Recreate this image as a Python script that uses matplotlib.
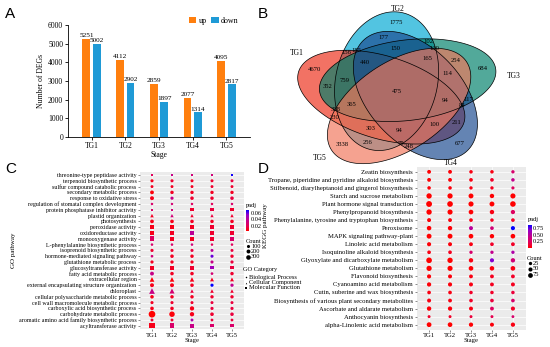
import numpy as np
import matplotlib.pyplot as plt
from matplotlib.patches import Polygon
from matplotlib.colors import LinearSegmentedColormap, Normalize
from matplotlib.cm import ScalarMappable

plt.rcParams['font.family'] = ['Liberation Serif', 'DejaVu Serif']

# ---------------- data ----------------
stages = ['TG1', 'TG2', 'TG3', 'TG4', 'TG5']

# A: number of DEGs
deg_up = [5251, 4112, 2859, 2077, 4095]
deg_down = [5002, 2902, 1897, 1314, 2817]

# B: venn, region = digits of the TG sets it belongs to
venn_sets = ['TG1', 'TG2', 'TG3', 'TG4', 'TG5']
venn_regions = ['1', '2', '3', '4', '5',
                '12', '13', '14', '15', '23', '24', '25', '34', '35', '45',
                '123', '124', '125', '134', '135', '145', '234', '235', '245', '345',
                '1234', '1235', '1245', '1345', '2345', '12345']
venn_counts = [4670, 1775, 684, 677, 3338,
               156, 352, 211, 230, 102, 177, 256, 117, 254, 248,
               759, 185, 303, 84, 318, 100, 150, 130, 75, 114,
               440, 365, 94, 94, 165, 475]

# C: GO enrichment
go_terms = ['threonine-type peptidase activity', 'terpenoid biosynthetic process',
            'sulfur compound catabolic process', 'secondary metabolic process',
            'response to oxidative stress', 'regulation of stomatal complex development',
            'protein phosphatase inhibitor activity', 'plastid organization',
            'photosynthesis', 'peroxidase activity', 'oxidoreductase activity',
            'monooxygenase activity', 'L-phenylalanine biosynthetic process',
            'isoprenoid biosynthetic process', 'hormone-mediated signaling pathway',
            'glutathione metabolic process', 'glucosyltransferase activity',
            'fatty acid metabolic process', 'extracellular region',
            'external encapsulating structure organization', 'chloroplast',
            'cellular polysaccharide metabolic process',
            'cell wall macromolecule metabolic process',
            'carboxylic acid biosynthetic process', 'carbohydrate metabolic process',
            'aromatic amino acid family biosynthetic process', 'acyltransferase activity']
go_category = ['MF', 'BP', 'BP', 'BP', 'BP', 'BP', 'MF', 'CC', 'BP', 'MF', 'MF', 'MF', 'BP',
               'BP', 'BP', 'BP', 'MF', 'BP', 'CC', 'BP', 'CC', 'BP', 'BP', 'BP', 'BP', 'BP', 'MF']
go_count = [[70, 60, 60, 60, 60], [100, 100, 90, 90, 90], [80, 80, 80, 80, 80],
            [180, 140, 130, 130, 130], [200, 110, 150, 140, 150], [40, 35, 40, 40, 40],
            [40, 35, 130, 100, 130], [150, 130, 130, 120, 130], [170, 160, 150, 140, 150],
            [170, 160, 150, 140, 150], [250, 200, 170, 140, 150], [300, 290, 180, 160, 140],
            [45, 45, 45, 40, 45], [110, 100, 100, 90, 90], [60, 150, 140, 100, 130],
            [110, 120, 110, 100, 110], [150, 150, 140, 120, 120], [190, 150, 150, 60, 140],
            [320, 300, 280, 200, 200], [200, 200, 150, 110, 120], [500, 380, 150, 160, 150],
            [150, 140, 140, 130, 130], [100, 100, 90, 90, 90], [160, 150, 250, 110, 110],
            [700, 450, 260, 160, 150], [80, 80, 80, 70, 70], [420, 350, 250, 90, 90]]
go_padj = [[0.02, 0.035, 0.03, 0.03, 0.07], [0.008, 0.012, 0.01, 0.012, 0.015],
           [0.01, 0.01, 0.01, 0.012, 0.012], [0.005, 0.01, 0.01, 0.01, 0.01],
           [0.008, 0.035, 0.012, 0.012, 0.015], [0.025, 0.028, 0.022, 0.02, 0.025],
           [0.025, 0.03, 0.012, 0.015, 0.012], [0.01, 0.03, 0.012, 0.015, 0.012],
           [0.008, 0.008, 0.01, 0.01, 0.01], [0.008, 0.008, 0.01, 0.012, 0.012],
           [0.008, 0.01, 0.04, 0.012, 0.012], [0.022, 0.01, 0.01, 0.012, 0.025],
           [0.025, 0.025, 0.03, 0.02, 0.02], [0.012, 0.012, 0.015, 0.04, 0.015],
           [0.03, 0.01, 0.01, 0.06, 0.012], [0.01, 0.01, 0.01, 0.035, 0.015],
           [0.01, 0.01, 0.012, 0.05, 0.015], [0.035, 0.01, 0.01, 0.028, 0.012],
           [0.005, 0.005, 0.008, 0.01, 0.01], [0.008, 0.008, 0.01, 0.072, 0.038],
           [0.035, 0.028, 0.015, 0.012, 0.012], [0.008, 0.01, 0.01, 0.012, 0.012],
           [0.01, 0.012, 0.012, 0.015, 0.015], [0.008, 0.01, 0.008, 0.015, 0.015],
           [0.003, 0.005, 0.008, 0.012, 0.015], [0.012, 0.012, 0.045, 0.015, 0.015],
           [0.008, 0.025, 0.035, 0.025, 0.025]]

# D: KEGG enrichment
kegg_terms = ['Zeatin biosynthesis', 'Tropane, piperidine and pyridine alkaloid biosynthesis',
              'Stilbenoid, diarylheptanoid and gingerol biosynthesis',
              'Starch and sucrose metabolism', 'Plant hormone signal transduction',
              'Phenylpropanoid biosynthesis',
              'Phenylalanine, tyrosine and tryptophan biosynthesis', 'Peroxisome',
              'MAPK signaling pathway-plant', 'Linoleic acid metabolism',
              'Isoquinoline alkaloid biosynthesis', 'Glyoxylate and dicarboxylate metabolism',
              'Glutathione metabolism', 'Flavonoid biosynthesis', 'Cyanoamino acid metabolism',
              'Cutin, suberine and wax biosynthesis',
              'Biosynthesis of various plant secondary metabolites',
              'Ascorbate and aldarate metabolism', 'Anthocyanin biosynthesis',
              'alpha-Linolenic acid metabolism']
kegg_count = [[40, 40, 30, 30, 25], [40, 40, 35, 35, 30], [30, 30, 25, 25, 20],
              [100, 95, 80, 60, 90], [125, 115, 90, 80, 110], [100, 90, 70, 60, 55],
              [45, 40, 35, 30, 35], [65, 60, 45, 35, 50], [80, 80, 70, 60, 70],
              [50, 45, 40, 35, 40], [35, 35, 25, 25, 25], [115, 100, 60, 50, 60],
              [95, 90, 70, 65, 70], [50, 45, 40, 40, 40], [55, 50, 45, 40, 45],
              [35, 35, 30, 30, 30], [45, 40, 35, 35, 35], [60, 55, 45, 40, 50],
              [15, 15, 15, 15, 12], [75, 70, 55, 45, 55]]
kegg_padj = [[0.01, 0.02, 0.05, 0.05, 0.3], [0.01, 0.02, 0.05, 0.1, 0.45],
             [0.02, 0.03, 0.05, 0.08, 0.25], [0.001, 0.001, 0.002, 0.01, 0.005],
             [0.001, 0.001, 0.002, 0.005, 0.002], [0.001, 0.002, 0.01, 0.05, 0.25],
             [0.02, 0.03, 0.05, 0.08, 0.1], [0.01, 0.02, 0.5, 0.35, 0.9],
             [0.001, 0.002, 0.005, 0.01, 0.01], [0.02, 0.03, 0.05, 0.1, 0.1],
             [0.05, 0.08, 0.3, 0.45, 0.55], [0.001, 0.002, 0.05, 0.7, 0.35],
             [0.001, 0.002, 0.01, 0.03, 0.05], [0.02, 0.03, 0.05, 0.08, 0.1],
             [0.02, 0.03, 0.05, 0.08, 0.08], [0.05, 0.05, 0.1, 0.1, 0.15],
             [0.05, 0.05, 0.1, 0.15, 0.3], [0.02, 0.03, 0.05, 0.25, 0.1],
             [0.1, 0.1, 0.15, 0.2, 0.3], [0.001, 0.002, 0.01, 0.03, 0.05]]

# ---------------- figure ----------------
W, H = 550, 347
fig = plt.figure(figsize=(W / 100, H / 100), dpi=100)


def add_px_axes(x0, y0, x1, y1):
    # axes from pixel box (origin top-left)
    return fig.add_axes([x0 / W, 1 - y1 / H, (x1 - x0) / W, (y1 - y0) / H])


# ----- A -----
axA = add_px_axes(68, 25, 250, 137)
xs = np.arange(len(stages))
bw = 0.23
b_up = axA.bar(xs - 0.155, deg_up, bw, color='#FF7F0E', label='up')
b_dn = axA.bar(xs + 0.155, deg_down, bw, color='#1F9AD6', label='down')
for bars in (b_up, b_dn):
    for r in bars:
        axA.text(r.get_x() + r.get_width() / 2, r.get_height() + 40, f'{int(r.get_height())}',
                 ha='center', va='bottom', fontsize=5.2)
axA.set_xlim(-0.7, 4.7)
axA.set_ylim(0, 6000)
axA.set_yticks(range(0, 6001, 1000))
axA.set_xticks(xs, stages)
axA.spines[['top', 'right']].set_visible(False)
for s in ('left', 'bottom'):
    axA.spines[s].set_linewidth(0.6)
axA.tick_params(labelsize=5.5, length=2, width=0.6, pad=1.5)
axA.set_ylabel('Number of DEGs', fontsize=5.5, labelpad=2)
axA.set_xlabel('Stage', fontsize=5.5, labelpad=1)
axA.legend(loc='upper right', bbox_to_anchor=(0.96, 1.11), ncol=2, frameon=False,
           fontsize=5.8, handlelength=0.9, handleheight=0.9, handletextpad=0.3,
           columnspacing=0.6, borderpad=0)

# ----- B: venn -----
axB = add_px_axes(282, 0, 548, 170)
axB.set_xlim(282, 548)
axB.set_ylim(170, 0)
axB.axis('off')
venn_colors = ['#EC301A', '#00A9D4', '#00806B', '#1A4A90', '#F1775B']
tip_angle = [198, 270, 342, 54, 126]
label_pos = [(206, 88), (270, 83), (350, 92), (60, 82), (133, 90)]
cx, cy, sx = 398, 92, 1.28          # sx: horizontal stretch of the diagram
r_tip, r_far, far_turn, semi_minor = 80, 61, 197, 40

ell = []
for th in tip_angle:
    t, f = np.radians(th), np.radians(th + far_turn)
    T = np.array([cx + r_tip * np.cos(t), cy + r_tip * np.sin(t)])
    F = np.array([cx + r_far * np.cos(f), cy + r_far * np.sin(f)])
    M = (T + F) / 2
    d = T - F
    ell.append((M[0], M[1], np.hypot(*d) / 2, semi_minor, np.arctan2(d[1], d[0])))


def ellipse_xy(mx, my, a, b, rot):
    tt = np.linspace(0, 2 * np.pi, 240)
    px = mx + a * np.cos(tt) * np.cos(rot) - b * np.sin(tt) * np.sin(rot)
    py = my + a * np.cos(tt) * np.sin(rot) + b * np.sin(tt) * np.cos(rot)
    return np.column_stack([cx + sx * (px - cx), py])


for k in [1, 0, 2, 3, 4]:
    axB.add_patch(Polygon(ellipse_xy(*ell[k]), closed=True, facecolor=venn_colors[k],
                          alpha=0.68, lw=0))
for e in ell:
    axB.add_patch(Polygon(ellipse_xy(*e), closed=True, fill=False, ec='black', lw=0.5))

# place region numbers at the most interior point of each region
gxv, gyv = np.meshgrid(np.arange(282, 548, 0.5), np.arange(0, 170, 0.5))
ux = cx + (gxv - cx) / sx
code = np.zeros(gxv.shape, dtype=int)
for k, (mx, my, a, b, rot) in enumerate(ell):
    c, s = np.cos(rot), np.sin(rot)
    dx, dy = ux - mx, gyv - my
    u, v = dx * c + dy * s, -dx * s + dy * c
    code |= ((u / a) ** 2 + (v / b) ** 2 <= 1).astype(int) << k
depth = np.zeros(code.shape, dtype=int)
alive = code > 0
step = 0
while alive.any():
    depth += alive
    keep = alive.copy()
    shifts = [(1, 0), (-1, 0), (0, 1), (0, -1)] if step % 2 == 0 else [(1, 1), (1, -1), (-1, 1), (-1, -1)]
    for sy, sxx in shifts:
        keep &= np.roll(alive, (sy, sxx), (0, 1)) & (np.roll(code, (sy, sxx), (0, 1)) == code)
    alive = keep
    step += 1
for reg, n in zip(venn_regions, venn_counts):
    c = sum(1 << (int(ch) - 1) for ch in reg)
    masked = np.where(code == c, depth, -1)
    if masked.max() <= 0:
        continue
    iy, ix = np.unravel_index(masked.argmax(), masked.shape)
    axB.text(gxv[iy, ix], gyv[iy, ix], str(n), ha='center', va='center', fontsize=4.8)
for name, (ang, rr) in zip(venn_sets, label_pos):
    t = np.radians(ang)
    axB.text(cx + sx * rr * np.cos(t), cy + rr * np.sin(t), name, ha='center', va='center',
             fontsize=5.5)

# ----- C and D: dot plots -----
cmap = LinearSegmentedColormap.from_list('padj', ['#FF0000', '#E1005A', '#C3008C', '#9600C8', '#0000FF'])


def dot_panel(ax, terms, counts, padj, size_fn, markers, ylab_fs):
    cnt = np.array(counts, float)
    pj = np.array(padj, float)
    norm = Normalize(pj.min(), pj.max())
    gx, gy = np.meshgrid(np.arange(len(stages)), np.arange(len(terms)))
    for mk in sorted(set(markers)):
        rows = [i for i, m in enumerate(markers) if m == mk]
        sel = np.isin(gy, rows)
        ax.scatter(gx[sel], gy[sel], s=size_fn(cnt[sel]), c=pj[sel], cmap=cmap, norm=norm,
                   marker=mk, linewidths=0, zorder=3)
    ax.set_facecolor('#EBEBEB')
    ax.set_xlim(-0.6, len(stages) - 0.4)
    ax.set_ylim(len(terms) - 0.4, -0.6)
    ax.set_xticks(range(len(stages)), stages)
    ax.set_yticks(range(len(terms)), terms)
    ax.grid(color='white', lw=0.5)
    ax.set_axisbelow(True)
    for sp in ax.spines.values():
        sp.set_visible(False)
    ax.tick_params(length=1.5, width=0.4, color='#333333', pad=1)
    ax.tick_params(axis='y', labelsize=ylab_fs)
    ax.tick_params(axis='x', labelsize=4.8)
    ax.set_xlabel('Stage', fontsize=4.8, labelpad=0)
    return norm


def c_size(n):
    return 2.0 + 0.03 * n


def d_size(n):
    return 2.8 + 0.12 * n


shape_of = {'BP': 'o', 'CC': '^', 'MF': 's'}
axC = add_px_axes(140, 171.5, 244, 329.3)
normC = dot_panel(axC, go_terms, go_count, go_padj, c_size, [shape_of[c] for c in go_category], 4.3)
axC.set_ylabel('GO pathway', fontsize=5, labelpad=2)

axD = add_px_axes(416.5, 167, 525.5, 329.5)
normD = dot_panel(axD, kegg_terms, kegg_count, kegg_padj, d_size, ['o'] * len(kegg_terms), 4.8)

# ----- legends / labels in pixel space -----
ov = fig.add_axes([0, 0, 1, 1])
ov.set_xlim(0, W)
ov.set_ylim(H, 0)
ov.axis('off')

ov.text(266, 226, 'KEGG pathway', rotation=90, ha='center', va='center', fontsize=5)

for letter, (lx, ly) in zip('ABCD', [(10.5, 14), (263, 14), (11, 169), (263, 169)]):
    ov.text(lx, ly, letter, ha='center', va='center', fontsize=11, family='Liberation Sans')

# C legends
ov.text(245.5, 205, 'padj', fontsize=4.6, va='center')
caxC = add_px_axes(245.5, 209.5, 249, 231)
cbC = fig.colorbar(ScalarMappable(normC, cmap), cax=caxC, ticks=[0.02, 0.04, 0.06])
cbC.outline.set_visible(False)
caxC.tick_params(length=0, labelsize=4.6, pad=1)
ov.text(245.5, 241, 'Count', fontsize=4.6, va='center')
for val, yy in zip([100, 200, 300], [246.3, 251.3, 256.7]):
    ov.scatter(247.5, yy, s=c_size(val), c='black', linewidths=0)
    ov.text(251, yy, str(val), fontsize=4.6, va='center')
ov.text(243, 270, 'GO Category', fontsize=4.6, va='center')
for (lab, key), yy in zip([('Biological Process', 'BP'), ('Cellular Component', 'CC'),
                           ('Molecular Function', 'MF')], [277, 282.7, 287.7]):
    ov.scatter(246, yy, s=1.2, c='black', marker=shape_of[key], linewidths=0)
    ov.text(249, yy, lab, fontsize=4.6, va='center')

# D legends
ov.text(528, 219, 'padj', fontsize=4.6, va='center')
caxD = add_px_axes(528, 224.5, 531.5, 248)
cbD = fig.colorbar(ScalarMappable(normD, cmap), cax=caxD, ticks=[0.25, 0.5, 0.75])
cbD.ax.set_yticklabels(['0.25', '0.50', '0.75'])
cbD.outline.set_visible(False)
caxD.tick_params(length=0, labelsize=4.6, pad=1)
ov.text(527, 258, 'Count', fontsize=4.6, va='center')
for val, yy in zip([25, 50, 75], [263.3, 268.5, 275]):
    ov.scatter(529.5, yy, s=d_size(val), c='black', linewidths=0)
    ov.text(533, yy, str(val), fontsize=4.6, va='center')

fig.savefig('out.png', dpi=100)
